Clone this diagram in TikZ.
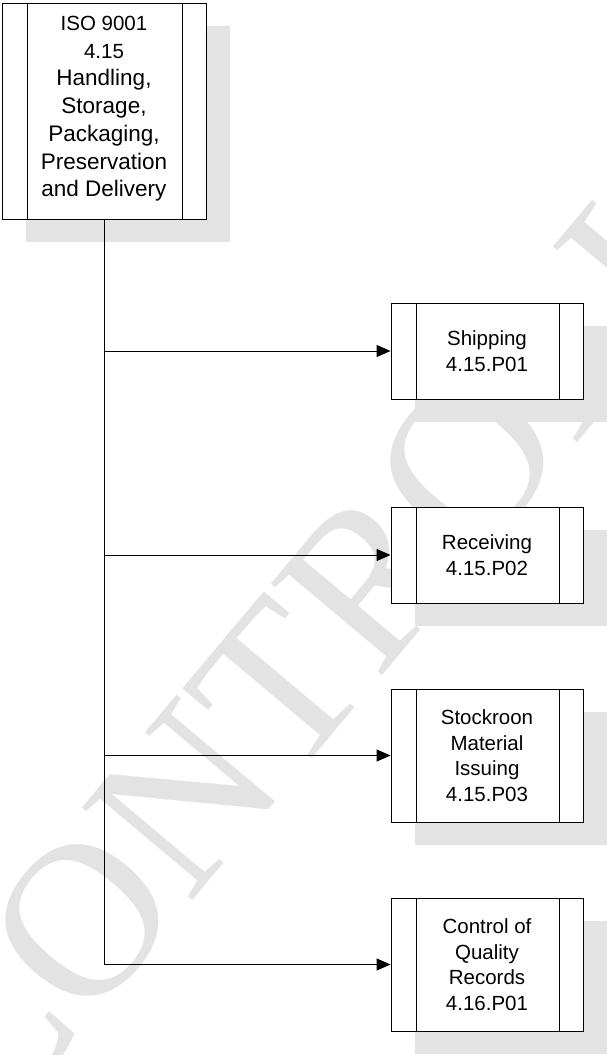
\documentclass[tikz,border=0pt]{standalone}
\usepackage{fontspec}
\setmainfont{Liberation Sans}
\newfontfamily\wmfont{Liberation Serif}
\usetikzlibrary{arrows.meta,backgrounds}
\begin{document}
\begin{tikzpicture}[x=1pt,y=-1pt,
  box/.style={draw=black, line width=0.9pt, fill=white, inner sep=0pt, align=center,
    minimum width=192pt, font=\fontsize{20.5}{25.5}\selectfont,
    path picture={\draw[line width=0.9pt]
      ([xshift=25pt]path picture bounding box.north west) -- ([xshift=25pt]path picture bounding box.south west)
      ([xshift=-24pt]path picture bounding box.north east) -- ([xshift=-24pt]path picture bounding box.south east);}},
  shadowbox/.style={fill=gray!22, draw=none},
  conn/.style={line width=0.9pt, -{Triangle[length=14pt,width=12pt]}},
  trunk/.style={line width=0.9pt}]
\useasboundingbox (0,0) rectangle (607,1055);

\node[box, minimum width=204pt, minimum height=216pt, text depth=9pt, font=\fontsize{22.5}{27.7}\selectfont] (top) at (104,111)
  {{\fontsize{20.5}{24}\selectfont ISO 9001}\\{\fontsize{20.5}{24}\selectfont 4.15}\\Handling,\\Storage,\\Packaging,\\Preservation\\and Delivery};
\node[box, minimum height=96pt] (ship) at (487,351) {Shipping\\4.15.P01};
\node[box, minimum height=96pt] (recv) at (487,555) {Receiving\\4.15.P02};
\node[box, minimum height=133pt] (stock) at (487,755.5) {Stockroon\\Material\\Issuing\\4.15.P03};
\node[box, minimum height=133pt] (ctrl) at (487,964.5) {Control of\\Quality\\Records\\4.16.P01};

\begin{scope}[on background layer]
  \node[rotate=50, anchor=base west, text=gray!22, inner sep=0pt,
    font=\wmfont\fontsize{220}{220}\selectfont] (wm) at (-8,1140) {CONTROLLED};
  \foreach \n in {top,ship,recv,stock,ctrl}{
    \fill[shadowbox] ([shift={(24,23)}]\n.south west) rectangle ([shift={(24,23)}]\n.north east);
  }
\end{scope}

\draw[trunk] (top.south) -- (top.south |- ctrl.west);
\draw[conn] (top.south |- ship.west) -- (ship.west);
\draw[conn] (top.south |- recv.west) -- (recv.west);
\draw[conn] (top.south |- stock.west) -- (stock.west);
\draw[conn] (top.south |- ctrl.west) -- (ctrl.west);
\end{tikzpicture}
\end{document}
